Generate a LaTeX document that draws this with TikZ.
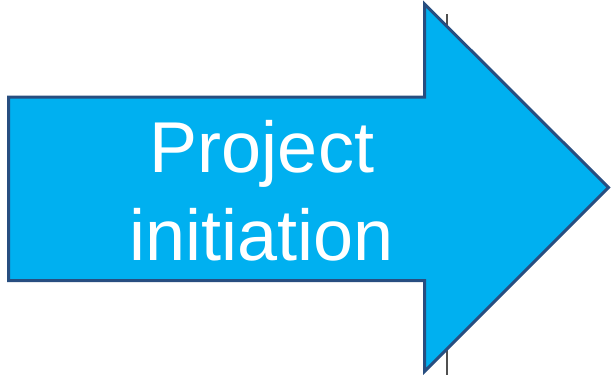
\documentclass[tikz,border=0pt]{standalone}
\usepackage{fontspec}
\setmainfont{Liberation Sans}
\usepackage{tikz}
\definecolor{arrowfill}{RGB}{0,176,240}
\definecolor{arrowline}{RGB}{40,78,128}
\definecolor{rulegray}{RGB}{80,80,80}

\begin{document}
\begin{tikzpicture}[x=1pt,y=-1pt]
\tikzstyle{every node}+=[inner sep=0pt]
\tikzstyle{label text}=[text=white,font=\fontsize{72}{86}\selectfont,anchor=base]
\useasboundingbox (0,0) rectangle (611,375);
\draw [rulegray,line width=2pt] (447,14) -- (447,375);
\draw [arrowline,line width=3pt,fill=arrowfill,line join=miter] (8.5,97) -- (424.5,97) -- (424.5,4) -- (608.5,187.5) -- (424.5,371.5) -- (424.5,280.5) -- (8.5,280.5) -- cycle;
\node [label text] (line1) at (262,172) {Project};
\node [label text] (line2) at (261.5,260) {initiation};
\end{tikzpicture}
\end{document}
